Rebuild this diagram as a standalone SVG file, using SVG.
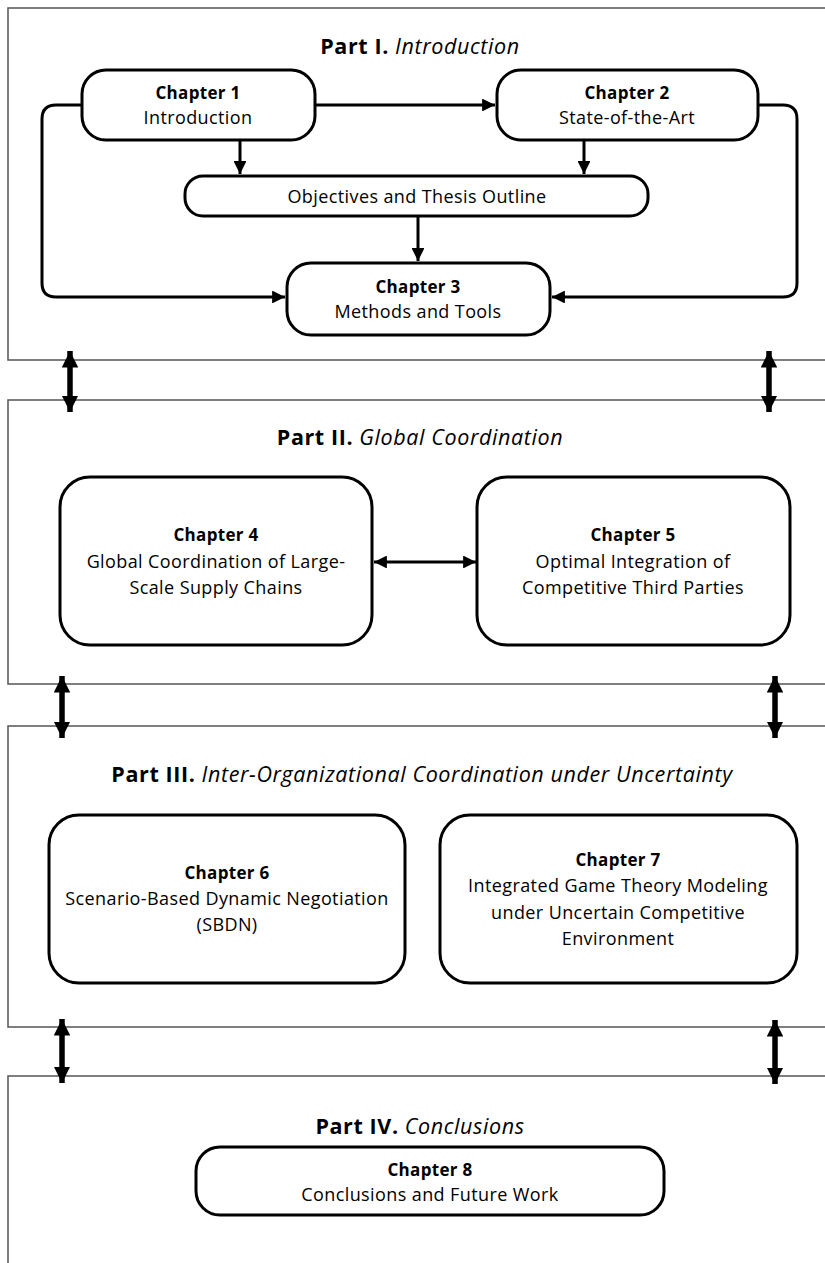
<svg xmlns="http://www.w3.org/2000/svg" width="825" height="1263" viewBox="0 0 825 1263">
  <defs>
    <style>
      .part { fill: none; stroke: #555; stroke-width: 1.5; }
      .node { fill: #fff; stroke: #000; stroke-width: 3; }
      .title { font-family: "Open Sans", "Liberation Sans", sans-serif; font-size: 21.5px; letter-spacing: 0.6px; text-anchor: middle; fill: #000; }
      .title .b { font-weight: bold; }
      .title .i { font-style: italic; }
      .h { font-family: "Open Sans", "Liberation Sans", sans-serif; font-size: 17px; letter-spacing: 0.3px; font-weight: bold; text-anchor: middle; fill: #000; }
      .t { font-family: "Open Sans", "Liberation Sans", sans-serif; font-size: 18px; letter-spacing: 0.4px; text-anchor: middle; fill: #000; }
      .link { fill: none; stroke: #000; stroke-width: 3; }
      .dbl { fill: none; stroke: #000; stroke-width: 5.5; }
    </style>
    <marker id="arr" viewBox="0 0 10 10" refX="10" refY="5" markerWidth="4.3" markerHeight="4.3" orient="auto" markerUnits="strokeWidth">
      <path d="M0,0 L10,5 L0,10 Z" fill="#000"/>
    </marker>
    <marker id="arrS" viewBox="0 0 10 10" refX="10" refY="5" markerWidth="4.3" markerHeight="4.3" orient="auto-start-reverse" markerUnits="strokeWidth">
      <path d="M0,0 L10,5 L0,10 Z" fill="#000"/>
    </marker>
    <marker id="big" viewBox="0 0 10 10" refX="10" refY="5" markerWidth="3" markerHeight="3" orient="auto-start-reverse" markerUnits="strokeWidth">
      <path d="M0,0 L10,5 L0,10 Z" fill="#000"/>
    </marker>
  </defs>

  <!-- part frames -->
  <g id="parts">
    <rect id="part1" class="part" x="8" y="8" width="830" height="352"/>
    <rect id="part2" class="part" x="8" y="400" width="830" height="284"/>
    <rect id="part3" class="part" x="8" y="726" width="830" height="301"/>
    <rect id="part4" class="part" x="8" y="1076" width="830" height="200"/>
  </g>

  <!-- part titles -->
  <g id="titles">
    <text class="title" x="420" y="54"><tspan class="b">Part I.</tspan> <tspan class="i">Introduction</tspan></text>
    <text class="title" x="420" y="445"><tspan class="b">Part II.</tspan> <tspan class="i">Global Coordination</tspan></text>
    <text class="title" x="422" y="782"><tspan class="b">Part III.</tspan> <tspan class="i">Inter-Organizational Coordination under Uncertainty</tspan></text>
    <text class="title" x="420" y="1134"><tspan class="b">Part IV.</tspan> <tspan class="i">Conclusions</tspan></text>
  </g>

  <!-- connectors -->
  <g id="connectors">
    <path class="link" d="M315,105 H495" marker-end="url(#arr)"/>
    <path class="link" d="M240,140 V174" marker-end="url(#arr)"/>
    <path class="link" d="M584,140 V174" marker-end="url(#arr)"/>
    <path class="link" d="M418,216 V261" marker-end="url(#arr)"/>
    <path class="link" d="M82,105 H56 Q42,105 42,119 V283 Q42,297 56,297 H285" marker-end="url(#arr)"/>
    <path class="link" d="M758,105 H783 Q797,105 797,119 V283 Q797,297 783,297 H552" marker-end="url(#arr)"/>
    <path class="link" d="M374,562 H476" marker-start="url(#arrS)" marker-end="url(#arrS)"/>

    <path class="dbl" d="M70,351 V412" marker-start="url(#big)" marker-end="url(#big)"/>
    <path class="dbl" d="M769,351 V412" marker-start="url(#big)" marker-end="url(#big)"/>
    <path class="dbl" d="M62,676 V738" marker-start="url(#big)" marker-end="url(#big)"/>
    <path class="dbl" d="M775,676 V738" marker-start="url(#big)" marker-end="url(#big)"/>
    <path class="dbl" d="M62,1019 V1083" marker-start="url(#big)" marker-end="url(#big)"/>
    <path class="dbl" d="M775,1020 V1084" marker-start="url(#big)" marker-end="url(#big)"/>
  </g>

  <g id="ch1">
    <rect class="node" x="82" y="70" width="233" height="70" rx="24"/>
    <text class="h" x="198" y="99">Chapter 1</text>
    <text class="t" x="198" y="124">Introduction</text>
  </g>
  <g id="ch2">
    <rect class="node" x="497" y="70" width="261" height="70" rx="24"/>
    <text class="h" x="627" y="99">Chapter 2</text>
    <text class="t" x="627" y="124">State-of-the-Art</text>
  </g>
  <g id="objectives">
    <rect class="node" x="185" y="176" width="463" height="40" rx="18"/>
    <text class="t" x="417" y="203">Objectives and Thesis Outline</text>
  </g>
  <g id="ch3">
    <rect class="node" x="287" y="263" width="263" height="72" rx="24"/>
    <text class="h" x="418" y="293">Chapter 3</text>
    <text class="t" x="418" y="318">Methods and Tools</text>
  </g>

  <g id="ch4">
    <rect class="node" x="60" y="477" width="312" height="168" rx="30"/>
    <text class="h" x="216" y="541">Chapter 4</text>
    <text class="t" x="216" y="568">Global Coordination of Large-</text>
    <text class="t" x="216" y="594">Scale Supply Chains</text>
  </g>
  <g id="ch5">
    <rect class="node" x="477" y="477" width="313" height="168" rx="30"/>
    <text class="h" x="633" y="541">Chapter 5</text>
    <text class="t" x="633" y="568">Optimal Integration of</text>
    <text class="t" x="633" y="594">Competitive Third Parties</text>
  </g>

  <g id="ch6">
    <rect class="node" x="49" y="815" width="356" height="168" rx="30"/>
    <text class="h" x="227" y="879">Chapter 6</text>
    <text class="t" x="227" y="905">Scenario-Based Dynamic Negotiation</text>
    <text class="t" x="227" y="931">(SBDN)</text>
  </g>
  <g id="ch7">
    <rect class="node" x="440" y="815" width="357" height="168" rx="30"/>
    <text class="h" x="618" y="866">Chapter 7</text>
    <text class="t" x="618" y="892">Integrated Game Theory Modeling</text>
    <text class="t" x="618" y="919">under Uncertain Competitive</text>
    <text class="t" x="618" y="945">Environment</text>
  </g>

  <g id="ch8">
    <rect class="node" x="196" y="1147" width="468" height="68" rx="24"/>
    <text class="h" x="430" y="1176">Chapter 8</text>
    <text class="t" x="430" y="1201">Conclusions and Future Work</text>
  </g>
</svg>
